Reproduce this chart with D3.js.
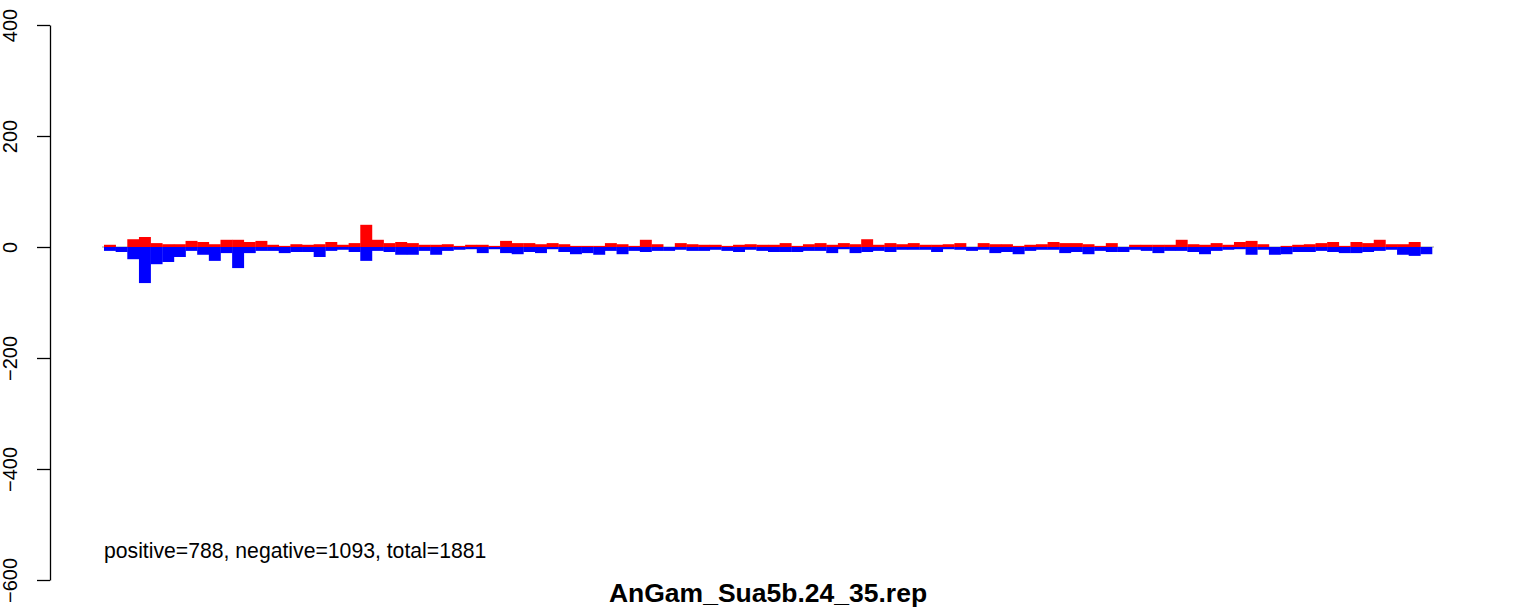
<!DOCTYPE html>
<html>
<head>
<meta charset="utf-8">
<script src="https://cdn.jsdelivr.net/npm/d3@7"></script>
<style>
  body { margin: 0; background: #fff; }
  svg { display: block; font-family: "Liberation Sans", Arial, sans-serif; }
</style>
</head>
<body>
<div id="wrapper"></div>
<script>
// counts per bin
const positive = [
  4, 0, 14, 18, 7, 5, 5, 11, 9, 5, 13, 13, 9, 11, 4, 2, 5, 4, 5, 9,
  4, 7, 40, 13, 7, 9, 7, 4, 4, 5, 2, 4, 4, 2, 11, 7, 7, 5, 7, 5,
  2, 2, 2, 7, 5, 2, 13, 5, 0, 7, 5, 4, 4, 2, 4, 5, 4, 4, 7, 2,
  5, 7, 4, 7, 5, 14, 4, 7, 5, 7, 4, 4, 5, 7, 0, 7, 5, 5, 2, 4,
  5, 9, 7, 7, 5, 2, 7, 0, 4, 4, 4, 4, 13, 5, 4, 7, 4, 9, 11, 5,
  0, 2, 4, 5, 7, 9, 2, 9, 7, 13, 5, 5, 9, 0
]
const negative = [
  7, 9, 22, 65, 31, 27, 18, 7, 14, 25, 11, 38, 11, 7, 7, 11, 9, 9, 18, 7,
  5, 9, 25, 7, 9, 14, 14, 7, 14, 7, 5, 4, 11, 4, 11, 13, 9, 11, 4, 9,
  13, 11, 14, 7, 13, 7, 9, 7, 7, 5, 7, 7, 5, 7, 9, 5, 7, 9, 9, 9,
  7, 7, 11, 4, 11, 9, 7, 9, 5, 5, 5, 9, 4, 5, 7, 5, 11, 9, 13, 7,
  5, 5, 11, 9, 13, 7, 9, 9, 5, 7, 11, 7, 7, 9, 13, 7, 5, 4, 14, 5,
  14, 13, 9, 9, 7, 9, 11, 11, 9, 7, 5, 14, 16, 13
]
const yTicks = [-600, -400, -200, 0, 200, 400]
const title = "AnGam_Sua5b.24_35.rep"
const note = "positive=788, negative=1093, total=1881"

function drawChart() {
  // 1. dimensions
  const dimensions = {
    width: 1533,
    height: 610,
    plotLeft: 104,
    plotRight: 1432,
    yTop: 25,
    yBottom: 580,
    axisX: 50
  }

  // 2. canvas
  const svg = d3.select("#wrapper")
    .append("svg")
      .attr("width", dimensions.width)
      .attr("height", dimensions.height)

  // 3. scales
  const xScale = d3.scaleBand()
    .domain(d3.range(positive.length))
    .range([dimensions.plotLeft, dimensions.plotRight])
    .padding(0)

  const yScale = d3.scaleLinear()
    .domain([-600, 400])
    .range([dimensions.yBottom, dimensions.yTop])

  // 4. zero reference line
  svg.append("line")
      .attr("x1", dimensions.plotLeft - 2)
      .attr("x2", dimensions.plotRight + 2)
      .attr("y1", yScale(0))
      .attr("y2", yScale(0))
      .attr("stroke", "#9a9a9a")
      .attr("stroke-width", 1)

  // 5. bars
  svg.append("g")
    .selectAll("rect")
    .data(positive)
    .join("rect")
      .attr("x", (d, i) => xScale(i))
      .attr("width", xScale.bandwidth() + 0.3)
      .attr("y", d => yScale(d))
      .attr("height", d => yScale(0) - yScale(d))
      .attr("fill", "#ff0000")

  svg.append("g")
    .selectAll("rect")
    .data(negative)
    .join("rect")
      .attr("x", (d, i) => xScale(i))
      .attr("width", xScale.bandwidth() + 0.3)
      .attr("y", yScale(0))
      .attr("height", d => yScale(-d) - yScale(0))
      .attr("fill", "#0000ff")

  // 6. y axis
  const yAxisGenerator = d3.axisLeft(yScale)
    .tickValues(yTicks)
    .tickSize(13)
    .tickSizeOuter(0)
    .tickFormat(d => d < 0 ? "\u2212" + Math.abs(d) : d)

  const yAxis = svg.append("g")
      .attr("transform", `translate(${dimensions.axisX},0)`)
      .call(yAxisGenerator)

  yAxis.select(".domain")
      .attr("stroke", "#000")
      .attr("stroke-width", 1.3)
  yAxis.selectAll(".tick line")
      .attr("stroke", "#000")
      .attr("stroke-width", 1.3)
  yAxis.selectAll(".tick text")
      .attr("x", null)
      .attr("dy", null)
      .attr("transform", `translate(${16.5 - dimensions.axisX},0) rotate(-90)`)
      .attr("text-anchor", "middle")
      .attr("fill", "#000")
      .style("font-size", "20px")
      .style("font-family", "\"Liberation Sans\", Arial, sans-serif")

  // 7. texts
  svg.append("text")
      .attr("x", dimensions.plotLeft)
      .attr("y", 558)
      .style("font-size", "21.2px")
      .attr("fill", "#000")
      .text(note)

  svg.append("text")
      .attr("x", (dimensions.plotLeft + dimensions.plotRight) / 2)
      .attr("y", 602)
      .attr("text-anchor", "middle")
      .style("font-size", "26.5px")
      .style("font-weight", "bold")
      .attr("fill", "#000")
      .text(title)
}

drawChart()
</script>
</body>
</html>
